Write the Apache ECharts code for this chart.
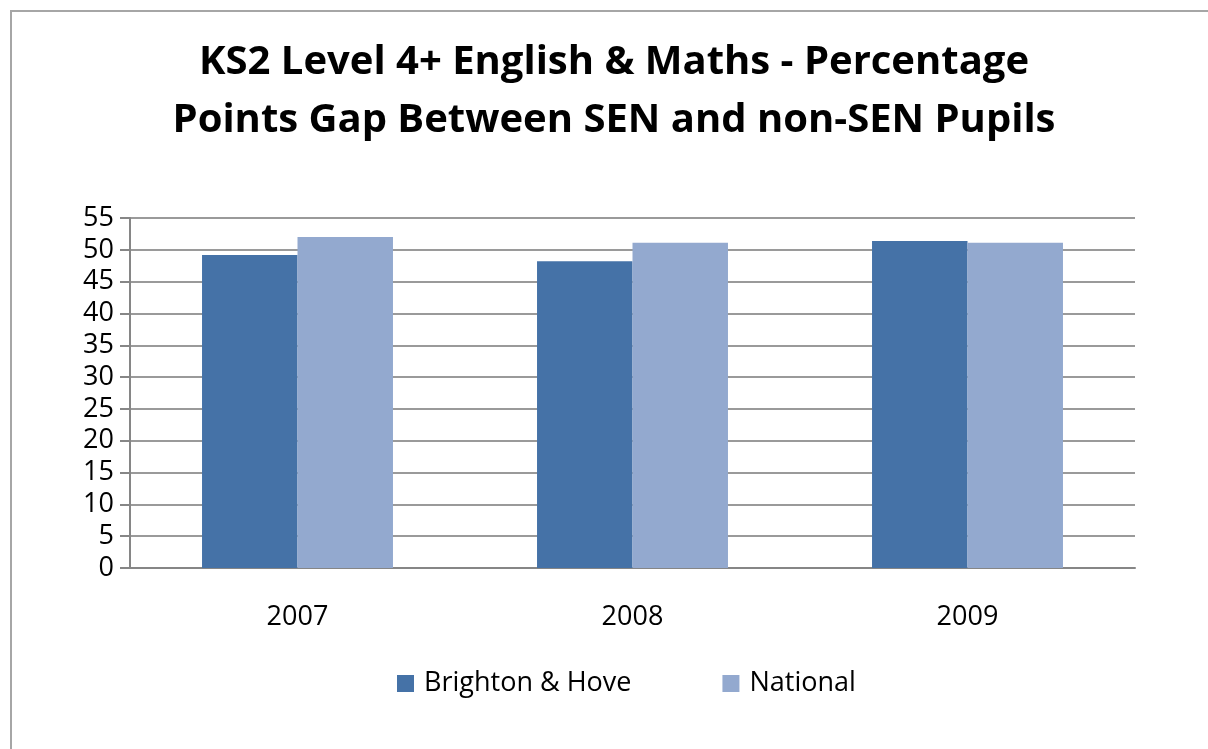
<!DOCTYPE html>
<html>
<head>
<meta charset="utf-8">
<script src="https://cdn.jsdelivr.net/npm/echarts@6/dist/echarts.min.js"></script>
<style>
  html, body { margin: 0; padding: 0; background: #fff; }
  #frame {
    position: absolute; left: 10px; top: 10px;
    width: 1220px; height: 760px;
    border: 2px solid #a6a6a6; box-sizing: border-box;
  }
  #chart { position: absolute; left: 0; top: 0; width: 1208px; height: 749px; }
</style>
</head>
<body>
<div id="frame"></div>
<div id="chart"></div>
<script>
var years = ["2007", "2008", "2009"];
var brighton = [49.2, 48.2, 51.4];
var national = [52.0, 51.1, 51.1];
var seriesNames = ["Brighton & Hove", "National"];

var chart = echarts.init(document.getElementById("chart"));
chart.setOption({
  animation: false,
  color: ["#4572a7", "#93a9cf"],
  textStyle: { fontFamily: "Open Sans" },
  title: {
    text: "KS2 Level 4+ English & Maths - Percentage\nPoints Gap Between SEN and non-SEN Pupils",
    left: 609,
    top: 29,
    textAlign: "center",
    textStyle: {
      fontFamily: "Open Sans",
      fontSize: 40,
      fontWeight: "bold",
      color: "#000",
      lineHeight: 58
    }
  },
  legend: {
    data: seriesNames,
    top: 665,
    left: 392,
    itemWidth: 17,
    itemHeight: 17,
    itemGap: 91,
    icon: "rect",
    textStyle: { fontSize: 27, color: "#000", fontFamily: "Open Sans", padding: [0, 0, 0, 5] }
  },
  grid: { left: 130, right: 73, top: 218, bottom: 181 },
  xAxis: {
    type: "category",
    data: years,
    axisLine: { lineStyle: { color: "#868686", width: 2 } },
    axisTick: { length: 9, lineStyle: { color: "#868686", width: 2 } },
    axisLabel: { fontSize: 27, color: "#000", margin: 36 }
  },
  yAxis: {
    type: "value",
    min: 0,
    max: 55,
    interval: 5,
    axisLine: { show: true, lineStyle: { color: "#868686", width: 2 } },
    axisTick: { show: true, length: 10, lineStyle: { color: "#868686", width: 2 } },
    axisLabel: { fontSize: 27, color: "#000", margin: 16 },
    splitLine: { lineStyle: { color: "#9a9a9a", width: 2 } }
  },
  series: [
    { name: seriesNames[0], type: "bar", data: brighton, barGap: "0%", barCategoryGap: "43%" },
    { name: seriesNames[1], type: "bar", data: national, barGap: "0%", barCategoryGap: "43%" }
  ]
});
</script>
</body>
</html>
